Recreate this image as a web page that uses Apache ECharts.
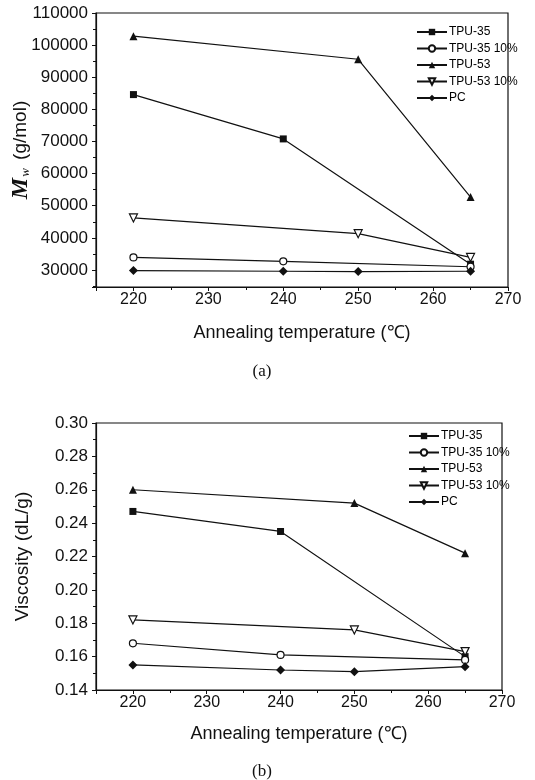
<!DOCTYPE html>
<html>
<head>
<meta charset="utf-8">
<script src="https://cdn.jsdelivr.net/npm/echarts@6/dist/echarts.min.js"></script>
<style>
  body { margin: 0; background: #fff; }
  #main { width: 535px; height: 780px; }
</style>
</head>
<body>
<div id="main"></div>
<script>
// annealing temperatures (℃) per series
const tempsTPU35 = [220, 240, 265];
const tempsTPU53 = [220, 250, 265];
const tempsPC = [220, 240, 250, 265];

const seriesNames = ['TPU-35', 'TPU-35 10%', 'TPU-53', 'TPU-53 10%', 'PC'];

// (a) Mw (g/mol)
const mwTPU35 = [84600, 70800, 31800];
const mwTPU35p10 = [33900, 32700, 31000];
const mwTPU53 = [102800, 95600, 52700];
const mwTPU53p10 = [46200, 41300, 33900];
const mwPC = [29800, 29600, 29500, 29600];

// (b) viscosity (dL/g)
const visTPU35 = [0.247, 0.235, 0.160];
const visTPU35p10 = [0.168, 0.161, 0.158];
const visTPU53 = [0.260, 0.252, 0.222];
const visTPU53p10 = [0.182, 0.176, 0.163];
const visPC = [0.155, 0.152, 0.151, 0.154];

const ink = '#111';
const font = 'Liberation Sans';

function pairs(xs, ys) {
  return xs.map((x, i) => [x, ys[i]]);
}

// marker style for each series name
const markers = {
  'TPU-35': { symbol: 'rect', symbolSize: 7, itemStyle: { color: ink } },
  'TPU-35 10%': { symbol: 'circle', symbolSize: 7, itemStyle: { color: '#fff', borderColor: ink, borderWidth: 1.2 } },
  'TPU-53': { symbol: 'triangle', symbolSize: 8, itemStyle: { color: ink } },
  'TPU-53 10%': { symbol: 'triangle', symbolRotate: 180, symbolSize: 8, itemStyle: { color: '#fff', borderColor: ink, borderWidth: 1.2 } },
  'PC': { symbol: 'diamond', symbolSize: 9, itemStyle: { color: ink } }
};

function makeSeries(name, xs, ys, idx) {
  const m = markers[name];
  return {
    name: name,
    type: 'line',
    xAxisIndex: idx,
    yAxisIndex: idx,
    data: pairs(xs, ys),
    symbol: m.symbol,
    symbolSize: m.symbolSize,
    symbolRotate: m.symbolRotate || 0,
    showAllSymbol: true,
    itemStyle: m.itemStyle,
    lineStyle: { color: ink, width: 1.2 },
    z: name === 'PC' ? 3 : 2,
    animation: false
  };
}

function xAxisFor(idx) {
  return {
    type: 'value',
    gridIndex: idx,
    min: 215,
    max: 270,
    splitNumber: 6,
    name: 'Annealing temperature (℃)',
    nameLocation: 'middle',
    nameGap: idx === 0 ? 37 : 35,
    nameMoveOverlap: false,
    nameTextStyle: { fontFamily: font, fontSize: 18, color: ink },
    axisLine: { lineStyle: { color: ink, width: 1.2 } },
    axisTick: { length: 4, lineStyle: { color: ink } },
    minorTick: { show: true, splitNumber: 2, length: 3, lineStyle: { color: ink } },
    splitLine: { show: false },
    axisLabel: {
      fontFamily: font, fontSize: 16, color: ink, margin: 5,
      formatter: v => (v % 10 === 0 ? String(v) : '')
    }
  };
}

const legendBase = {
  orient: 'vertical',
  data: seriesNames,
  itemWidth: 30,
  itemHeight: 8,
  itemGap: 4.5,
  textStyle: { fontFamily: font, fontSize: 12, color: '#000', padding: [0, 0, 0, -3] }
};

const chart = echarts.init(document.getElementById('main'));
chart.setOption({
  backgroundColor: '#fff',
  animation: false,
  title: [
    { text: '(a)', left: 257, top: 358, textAlign: 'center',
      textStyle: { fontFamily: 'Liberation Serif', fontSize: 17, fontWeight: 'normal', color: ink } },
    { text: '(b)', left: 257, top: 758, textAlign: 'center',
      textStyle: { fontFamily: 'Liberation Serif', fontSize: 17, fontWeight: 'normal', color: ink } }
  ],
  legend: [
    Object.assign({}, legendBase, { left: 411, top: 21 }),
    Object.assign({}, legendBase, { left: 403, top: 425 })
  ],
  grid: [
    { left: 96, top: 13, width: 412, height: 274, show: true, borderColor: ink, borderWidth: 1.2, outerBoundsMode: 'none', containLabel: false },
    { left: 96, top: 423, width: 406, height: 267, show: true, borderColor: ink, borderWidth: 1.2, outerBoundsMode: 'none', containLabel: false }
  ],
  xAxis: [xAxisFor(0), xAxisFor(1)],
  yAxis: [
    {
      type: 'value',
      gridIndex: 0,
      min: 24700,
      max: 110000,
      splitNumber: 8,
      name: '{m|M}{w|w} (g/mol)',
      nameLocation: 'middle',
      nameGap: 63,
      nameMoveOverlap: false,
      nameTextStyle: {
        fontFamily: font, fontSize: 19, color: ink,
        rich: {
          m: { fontFamily: 'Liberation Serif', fontStyle: 'italic', fontWeight: 'bold', fontSize: 24, color: ink },
          w: { fontFamily: 'Liberation Serif', fontStyle: 'italic', fontSize: 13, color: ink, padding: [9, 3, 0, 1] }
        }
      },
      axisLine: { lineStyle: { color: ink, width: 1.2 } },
      axisTick: { length: 4, lineStyle: { color: ink } },
      minorTick: { show: true, splitNumber: 2, length: 3, lineStyle: { color: ink } },
      splitLine: { show: false },
      axisLabel: {
        fontFamily: font, fontSize: 17, color: ink, margin: 8,
        formatter: v => (v % 10000 === 0 ? String(v) : '')
      }
    },
    {
      type: 'value',
      gridIndex: 1,
      min: 0.14,
      max: 0.30,
      interval: 0.02,
      name: 'Viscosity (dL/g)',
      nameLocation: 'middle',
      nameGap: 64,
      nameMoveOverlap: false,
      nameTextStyle: { fontFamily: font, fontSize: 19, color: ink },
      axisLine: { lineStyle: { color: ink, width: 1.2 } },
      axisTick: { length: 4, lineStyle: { color: ink } },
      minorTick: { show: true, splitNumber: 2, length: 3, lineStyle: { color: ink } },
      splitLine: { show: false },
      axisLabel: {
        fontFamily: font, fontSize: 17, color: ink, margin: 8,
        formatter: v => v.toFixed(2)
      }
    }
  ],
  series: [
    makeSeries('TPU-35', tempsTPU35, mwTPU35, 0),
    makeSeries('TPU-35 10%', tempsTPU35, mwTPU35p10, 0),
    makeSeries('TPU-53', tempsTPU53, mwTPU53, 0),
    makeSeries('TPU-53 10%', tempsTPU53, mwTPU53p10, 0),
    makeSeries('PC', tempsPC, mwPC, 0),
    makeSeries('TPU-35', tempsTPU35, visTPU35, 1),
    makeSeries('TPU-35 10%', tempsTPU35, visTPU35p10, 1),
    makeSeries('TPU-53', tempsTPU53, visTPU53, 1),
    makeSeries('TPU-53 10%', tempsTPU53, visTPU53p10, 1),
    makeSeries('PC', tempsPC, visPC, 1)
  ]
});
</script>
</body>
</html>
